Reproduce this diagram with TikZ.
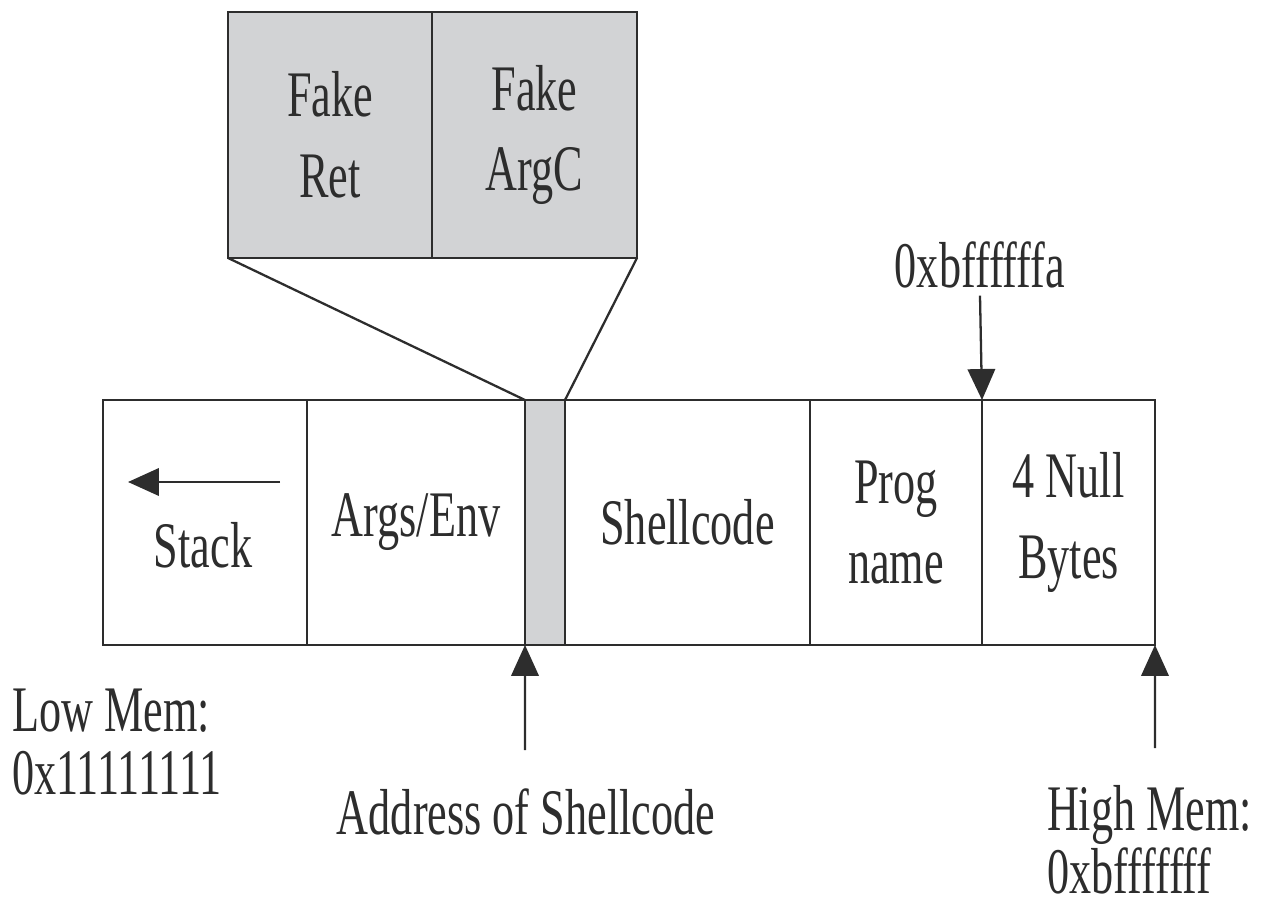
\documentclass[tikz,border=0pt]{standalone}
\usepackage{fontspec}
\setmainfont{Liberation Serif}[FakeStretch=0.68]
\usetikzlibrary{arrows.meta}
\definecolor{fakegray}{RGB}{210,211,213}
\definecolor{inkgray}{RGB}{45,45,45}
\begin{document}
\begin{tikzpicture}
[x=0.02cm, y=-0.02cm,
 nodes={font=\fontsize{37}{46}\selectfont, text=inkgray, inner sep=2pt, outer sep=0pt},
 cell/.style={draw=inkgray, line width=1.6pt, minimum height=4.9cm, align=center},
 lbl/.style={font=\fontsize{37}{36}\selectfont, align=left, anchor=west, inner sep=0pt},
 >={Triangle[length=0.62cm, width=0.55cm]}, line width=1.3pt, draw=inkgray]
\useasboundingbox (0,0) rectangle (1274,908);

\node[cell, minimum width=4.08cm] (stack) at (205,522.5) {};
\node[cell, minimum width=4.36cm] (args) at (416,522.5) {Args/Env};
\node[cell, minimum width=0.8cm, fill=fakegray] (ptr) at (545,522.5) {};
\node[cell, minimum width=4.9cm] (shell) at (687.5,522.5) {Shellcode};
\node[cell, minimum width=3.44cm] (prog) at (896,522.5) {Prog\\name};
\node[cell, minimum width=3.46cm] (nulls) at (1068.5,522.5) {4 Null\\Bytes};

\node[cell, minimum width=4.08cm, minimum height=4.92cm, fill=fakegray] (ret) at (330,135) {Fake\\Ret};
\node[cell, minimum width=4.1cm, minimum height=4.92cm, fill=fakegray] (argc) at (534.5,135) {Fake\\ArgC};
\draw (ret.south west) -- (ptr.north west);
\draw (argc.south east) -- (ptr.north east);

\node (stacklbl) at (203,545) {Stack};
\coordinate (stackfrom) at (280,482);
\coordinate (stackto) at (128,482);
\draw[->] (stackfrom) -- (stackto);

\node (faddr) at (980,265) {0xbffffffa};
\draw[->] (faddr.south) ++(0,4) -- (nulls.north west);

\node (addr) at (526,812) {Address of Shellcode};
\coordinate (addrtail) at (525,750);
\draw[->] (addrtail) -- (ptr.south west);

\node[lbl] (low) at (12,742) {Low Mem:\\0x11111111};
\node[lbl] (high) at (1047,840) {High Mem:\\0xbfffffff};
\coordinate (hightail) at (1155,748);
\draw[->] (hightail) -- (nulls.south east);
\end{tikzpicture}
\end{document}
